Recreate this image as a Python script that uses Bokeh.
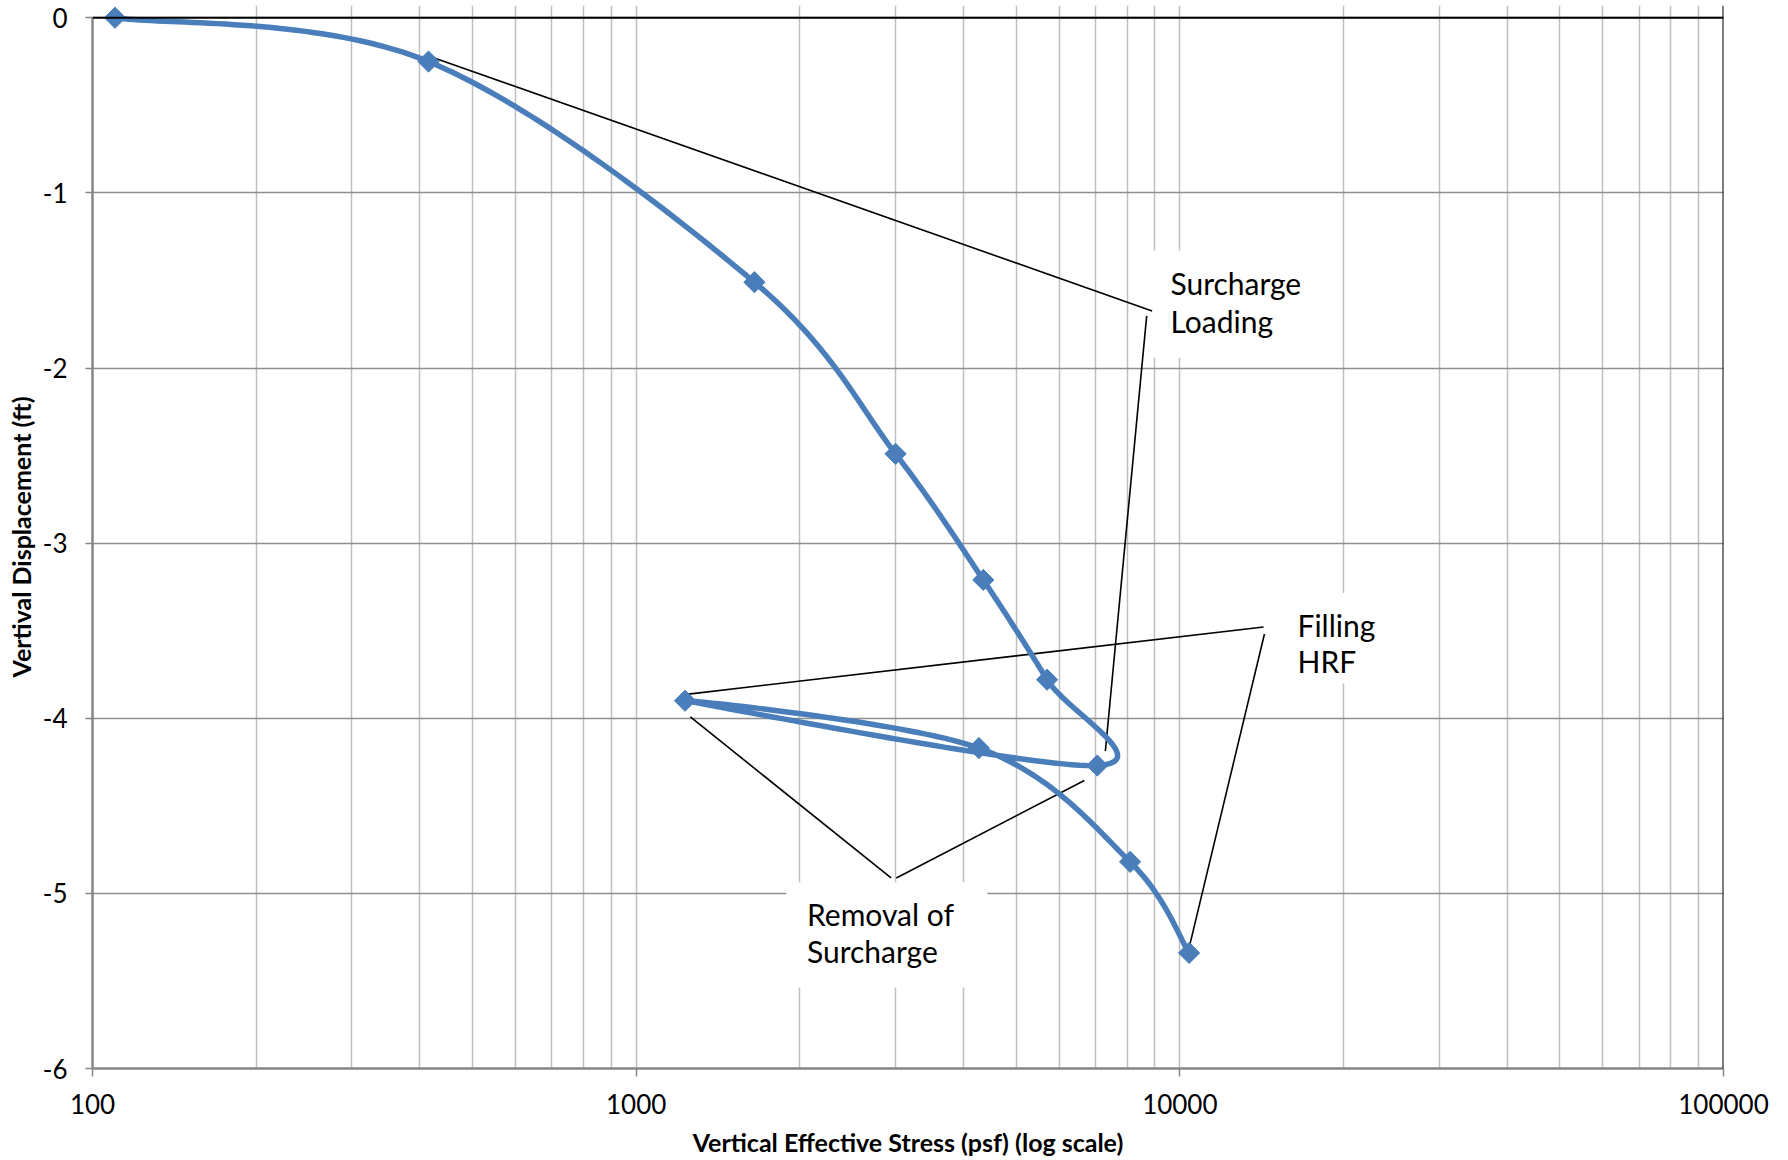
import math
from bokeh.plotting import figure
from bokeh.models import FixedTicker, Span
from bokeh.core.properties import value
from bokeh.embed import file_html
from bokeh.resources import INLINE

# ---- data ----
stress_psf = [110, 415, 1650, 3000, 4350, 5700, 7050, 1230, 4270, 8100, 10400]
displacement_ft = [0.0, -0.25, -1.51, -2.49, -3.21, -3.78, -4.27, -3.90, -4.17, -4.82, -5.34]

x_ticks = [100, 1000, 10000, 100000]
x_tick_labels = ["100", "1000", "10000", "100000"]
y_ticks = [0, -1, -2, -3, -4, -5, -6]
y_tick_labels = ["0", "-1", "-2", "-3", "-4", "-5", "-6"]

x_title = "Vertical Effective Stress (psf) (log scale)"
y_title = "Vertival Displacement (ft)"

BLUE = "#4A7EBB"
FONT = "Lato"

# ---- Excel-like smoothed line (Catmull-Rom Bezier, done in axis space) ----
lx = [math.log10(v) for v in stress_psf]
ly = list(displacement_ft)
n = len(lx)
sx, sy = [], []
for i in range(n - 1):
    p0 = (lx[i], ly[i]); p1 = (lx[i + 1], ly[i + 1])
    pm = (lx[i - 1], ly[i - 1]) if i > 0 else p0
    pp = (lx[i + 2], ly[i + 2]) if i + 2 < n else p1
    c1 = (p0[0] + (p1[0] - pm[0]) / 6, p0[1] + (p1[1] - pm[1]) / 6)
    c2 = (p1[0] - (pp[0] - p0[0]) / 6, p1[1] - (pp[1] - p0[1]) / 6)
    steps = 40
    for k in range(steps + (1 if i == n - 2 else 0)):
        t = k / steps
        a = (1 - t) ** 3; b = 3 * (1 - t) ** 2 * t; c = 3 * (1 - t) * t ** 2; d = t ** 3
        sx.append(10 ** (a * p0[0] + b * c1[0] + c * c2[0] + d * p1[0]))
        sy.append(a * p0[1] + b * c1[1] + c * c2[1] + d * p1[1])

# a little headroom above 0 so the first marker is not clipped
TOP = 0.07
p = figure(width=1788, height=1160, x_axis_type="log",
           x_range=(100, 100000), y_range=(-6, TOP),
           output_backend="svg", toolbar_location=None,
           min_border_left=92, min_border_right=65,
           min_border_top=5, min_border_bottom=92)
p.outline_line_color = None
p.background_fill_color = "white"

# axes
p.xaxis.ticker = FixedTicker(ticks=x_ticks,
                             minor_ticks=[m * 10 ** e for e in range(2, 5) for m in range(2, 10)])
p.xaxis.major_label_overrides = {t: l for t, l in zip(x_ticks, x_tick_labels)}
p.yaxis.ticker = FixedTicker(ticks=y_ticks)
p.yaxis.major_label_overrides = {t: l for t, l in zip(y_ticks, y_tick_labels)}
p.yaxis.bounds = (-6, 0)

for ax in (p.xaxis[0], p.yaxis[0]):
    ax.axis_line_color = "#868686"
    ax.axis_line_width = 2.5
    ax.major_tick_line_color = "#868686"
    ax.major_tick_line_width = 1.5
    ax.major_tick_in = 0
    ax.minor_tick_line_color = None
    ax.major_label_text_font = FONT
    ax.major_label_text_font_size = "26px"
    ax.major_label_text_color = "black"
    ax.axis_label_text_font = FONT
    ax.axis_label_text_font_style = "bold"
    ax.axis_label_text_font_size = "25px"
    ax.axis_label_text_color = "black"

p.xaxis.major_tick_out = 8
p.xaxis.major_label_standoff = 17
p.xaxis.axis_label_standoff = 10
p.xaxis.axis_label = x_title
p.yaxis.major_tick_out = 7
p.yaxis.major_label_standoff = 18
p.yaxis.axis_label_standoff = 4
p.yaxis.axis_label = y_title

# grids
p.xgrid.grid_line_color = "#BFBFBF"
p.xgrid.grid_line_width = 1.5
p.xgrid.minor_grid_line_color = "#BFBFBF"
p.xgrid.minor_grid_line_width = 1.5
p.ygrid.grid_line_color = "#8F8F8F"
p.ygrid.grid_line_width = 1.5

# hide the grid in the headroom strip above the plot area
p.quad(left=[100], right=[100000], bottom=[0], top=[TOP],
       fill_color="white", line_color=None, level="underlay")

# top / right frame border
p.add_layout(Span(location=0, dimension="width", line_color="black", line_width=2))
p.add_layout(Span(location=100000, dimension="height", line_color="black", line_width=2))
p.line([100000, 100000], [0, TOP], line_color="white", line_width=4, level="underlay")

# annotation boxes (white, hide grid lines)
p.quad(left=[8536, 16000, 1889], right=[18614, 26500, 4426],
       top=[-1.331, -3.285, -4.937], bottom=[-1.942, -3.800, -5.537],
       fill_color="white", line_color=None)

# callout lines
callouts = [
    ((424, -0.228), (8892, -1.674)),
    ((8690, -1.702), (7295, -4.188)),
    ((1248, -3.862), (14257, -3.479)),
    ((14310, -3.519), (10425, -5.297)),
    ((1258, -3.992), (2943, -4.912)),
    ((3010, -4.912), (6674, -4.355)),
]
p.segment(x0=[c[0][0] for c in callouts], y0=[c[0][1] for c in callouts],
          x1=[c[1][0] for c in callouts], y1=[c[1][1] for c in callouts],
          line_color="black", line_width=1.6)

p.text(x=[9610, 9610, 16461, 16461, 2062, 2062],
       y=[-1.512, -1.731, -3.468, -3.674, -5.119, -5.331],
       text=["Surcharge", "Loading", "Filling", "HRF", "Removal of", "Surcharge"],
       text_font=value(FONT), text_font_size="30px", text_color="black",
       text_align="left", text_baseline="middle")

# the series
p.line(sx, sy, line_color=BLUE, line_width=5.5, line_join="round", line_cap="round")
p.scatter(stress_psf, displacement_ft, marker="square", angle=math.pi / 4,
          size=15, fill_color=BLUE, line_color=BLUE)

open("out.html", "w").write(file_html(p, INLINE))
